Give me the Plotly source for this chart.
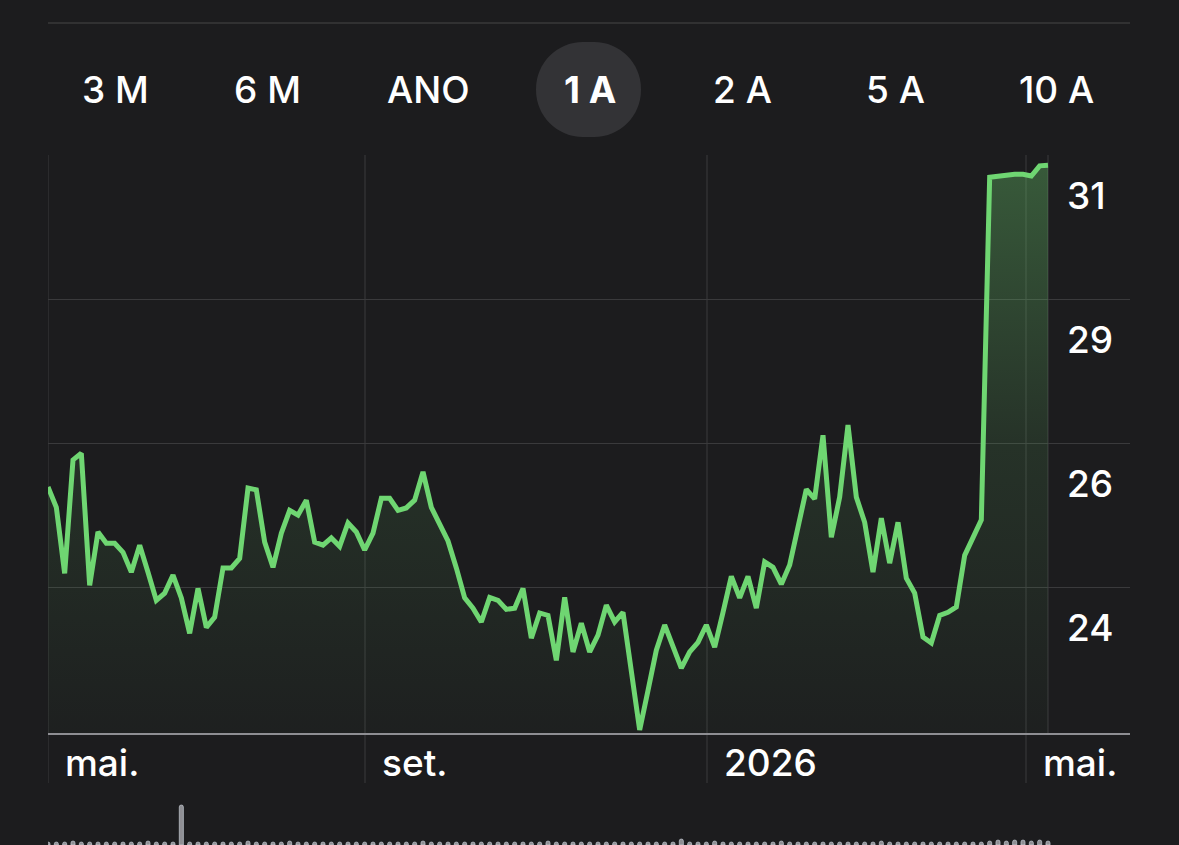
import plotly.graph_objects as go

# closing prices, one point every ~3 trading days (May 2025 -> May 2026)
price = [
    25.87, 25.53, 24.43, 26.32, 26.43, 24.23, 25.12, 24.93, 24.93, 24.78,
    24.45, 24.90, 24.45, 23.98, 24.10, 24.40, 24.02, 23.43, 24.18, 23.53,
    23.70, 24.52, 24.52, 24.68, 25.85, 25.82, 24.95, 24.53, 25.10, 25.48,
    25.40, 25.65, 24.95, 24.90, 25.02, 24.88, 25.27, 25.12, 24.82, 25.10,
    25.68, 25.68, 25.48, 25.52, 25.65, 26.12, 25.53, 25.23, 24.97, 24.52,
    24.02, 23.85, 23.62, 24.03, 23.98, 23.83, 23.85, 24.18, 23.35, 23.77,
    23.73, 22.98, 24.03, 23.12, 23.60, 23.12, 23.40, 23.90, 23.62, 23.78,
    22.82, 21.82, 22.48, 23.15, 23.57, 23.20, 22.85, 23.12, 23.28, 23.57,
    23.20, 23.78, 24.38, 24.02, 24.38, 23.85, 24.62, 24.53, 24.25, 24.57,
    25.22, 25.83, 25.67, 26.73, 25.03, 25.70, 26.90, 25.70, 25.28, 24.45,
    25.35, 24.60, 25.28, 24.35, 24.10, 23.37, 23.27, 23.73, 23.78, 23.87,
    24.73, 25.02, 25.32, 31.03, 31.05, 31.07, 31.08, 31.08, 31.05, 31.22,
    31.23,
]

# volume strip at the bottom (only the tops are visible)
volume = [
    3, 3, 3, 4, 3, 3, 3, 3, 3, 3, 3, 3, 4, 3, 3, 3, 40, 3, 3, 3,
    3, 3, 3, 3, 4, 3, 3, 3, 3, 4, 3, 3, 3, 3, 3, 3, 3, 3, 3, 3,
    3, 3, 3, 3, 3, 4, 3, 3, 3, 3, 3, 3, 3, 3, 3, 3, 3, 3, 3, 3,
    4, 3, 3, 3, 3, 3, 3, 3, 3, 3, 3, 3, 3, 3, 3, 3, 6, 3, 3, 3,
    4, 3, 3, 3, 3, 3, 3, 3, 4, 3, 3, 3, 3, 3, 3, 3, 3, 3, 3, 3,
    4, 3, 3, 3, 3, 3, 3, 3, 3, 3, 3, 3, 3, 4, 5, 4, 5, 5, 4, 5,
    4,
]

month_ticks = [0, 38.04, 79.08, 117.36]
month_labels = ["mai.", "set.", "2026", "mai."]

grid_values = [24.2, 26.6, 29.0, 31.4]
grid_labels = ["24", "26", "29", "31"]

ranges = ["3 M", "6 M", "ANO", "1 A", "2 A", "5 A", "10 A"]
selected = "1 A"

W, H = 1179, 845
BG = "#1c1c1e"
GREEN = "#6fd672"
GRID = "#3a3a3c"
FONT = "Inter, Roboto, sans-serif"


def px(x):
    return x / W


def py(y):
    return 1 - y / H


def pill_path(x0, x1, y0, y1, r):
    # rounded rectangle in paper coords, pixel inputs
    k = 0.5523 * r
    pts = [
        f"M{px(x0 + r)},{py(y0)}",
        f"L{px(x1 - r)},{py(y0)}",
        f"C{px(x1 - r + k)},{py(y0)} {px(x1)},{py(y0 + r - k)} {px(x1)},{py(y0 + r)}",
        f"L{px(x1)},{py(y1 - r)}",
        f"C{px(x1)},{py(y1 - r + k)} {px(x1 - r + k)},{py(y1)} {px(x1 - r)},{py(y1)}",
        f"L{px(x0 + r)},{py(y1)}",
        f"C{px(x0 + r - k)},{py(y1)} {px(x0)},{py(y1 - r + k)} {px(x0)},{py(y1 - r)}",
        f"L{px(x0)},{py(y0 + r)}",
        f"C{px(x0)},{py(y0 + r - k)} {px(x0 + r - k)},{py(y0)} {px(x0 + r)},{py(y0)}",
        "Z",
    ]
    return " ".join(pts)


idx = list(range(len(price)))
y_lo, y_hi = 21.77, 31.4

fig = go.Figure()

fig.add_trace(go.Scatter(
    x=idx, y=price, mode="lines",
    line=dict(color=GREEN, width=5),
    fill="tozeroy",
    fillgradient=dict(
        type="vertical", start=y_lo, stop=y_hi,
        colorscale=[[0, "rgba(111,214,114,0.02)"],
                    [0.5, "rgba(111,214,114,0.12)"],
                    [1, "rgba(111,214,114,0.34)"]],
    ),
    hoverinfo="skip", showlegend=False,
))

fig.add_trace(go.Bar(
    x=idx, y=volume, yaxis="y2",
    marker=dict(color="#8e8e93"),
    hoverinfo="skip", showlegend=False,
))

shapes = []
# top separator line
shapes.append(dict(type="line", xref="paper", yref="paper",
                   x0=px(48), x1=px(1130), y0=py(23), y1=py(23),
                   line=dict(color="#38383a", width=1.5)))
# vertical month gridlines, reaching into the label row
for t in month_ticks:
    shapes.append(dict(type="line", xref="x", yref="paper", layer="below",
                       x0=t, x1=t, y0=py(783), y1=py(155),
                       line=dict(color=GRID, width=1)))
# "now" line at the last data point
shapes.append(dict(type="line", xref="x", yref="y", layer="below",
                   x0=idx[-1], x1=idx[-1], y0=y_lo, y1=y_hi,
                   line=dict(color=GRID, width=1)))
# selected range pill
shapes.append(dict(type="path", xref="paper", yref="paper", layer="below",
                   path=pill_path(536, 641, 42, 137, 47),
                   fillcolor="#333336", line=dict(width=0)))

annotations = []
button_x = [115, 267, 428, 590, 742, 895, 1056]
for label, bx in zip(ranges, button_x):
    annotations.append(dict(
        text=label,
        xref="paper", yref="paper", x=px(bx), y=py(90),
        xanchor="center", yanchor="middle", showarrow=False,
        font=dict(family=FONT, size=37, color="white",
                  weight=700 if label == selected else 500),
    ))
for v, lab in zip(grid_values, grid_labels):
    annotations.append(dict(
        text=lab, xref="paper", yref="y", x=px(1065), y=v, yshift=-40,
        xanchor="left", yanchor="middle", showarrow=False,
        font=dict(family=FONT, size=37, color="white", weight=500),
    ))
for t, lab in zip(month_ticks, month_labels):
    annotations.append(dict(
        text=lab, xref="x", yref="paper", x=t, y=py(762), xshift=15,
        xanchor="left", yanchor="middle", showarrow=False,
        font=dict(family=FONT, size=37, color="white", weight=500),
    ))

fig.update_layout(
    width=W, height=H,
    margin=dict(l=0, r=0, t=0, b=0),
    paper_bgcolor=BG, plot_bgcolor=BG,
    xaxis=dict(domain=[px(48), px(1130)], range=[0, 1082 / (1000 / 120)],
               showgrid=False, zeroline=False, showticklabels=False,
               showline=True, linecolor="#8e8e93", linewidth=2, ticks=""),
    yaxis=dict(domain=[py(733), py(155)], range=[y_lo, y_hi],
               tickvals=grid_values, showgrid=True, gridcolor=GRID, gridwidth=1,
               zeroline=False, showticklabels=False, ticks=""),
    yaxis2=dict(domain=[0, py(800)], range=[0, 45], anchor="x",
                showgrid=False, zeroline=False, showticklabels=False),
    bargap=0.5, barcornerradius=2,
    shapes=shapes, annotations=annotations,
)

fig.write_html("out.html", config={"displayModeBar": False},
               post_script="document.body.style.margin='0';document.body.style.background='#1c1c1e';")
